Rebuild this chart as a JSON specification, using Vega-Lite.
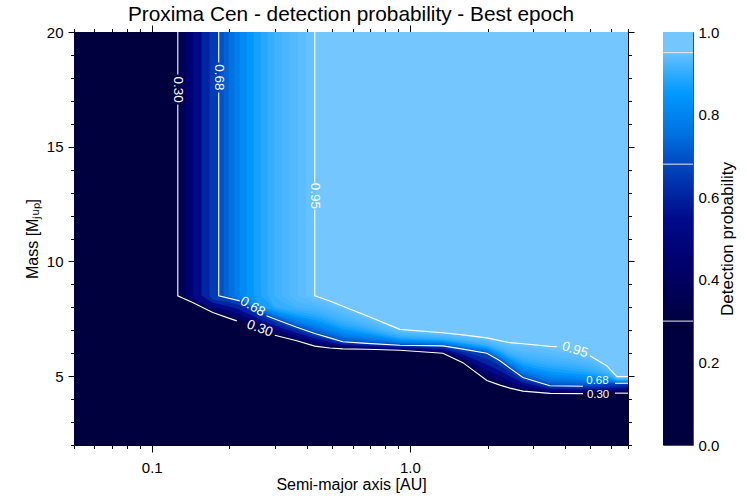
{
  "$schema": "https://vega.github.io/schema/vega-lite/v6.json",
  "padding": {"left": 24, "top": 4, "right": 6, "bottom": 4},
  "config": {
    "font": "Liberation Sans",
    "view": {"stroke": null},
    "axis": {"grid": false, "domainColor": "black", "domainWidth": 1, "tickColor": "black", "tickWidth": 1, "labelColor": "black", "labelFontSize": 15, "titleColor": "black", "titleFontSize": 16, "titleFontWeight": "normal", "labelFlush": false, "labelOverlap": false},
    "title": {"fontSize": 20.8, "fontWeight": "normal", "color": "black"}
  },
  "datasets": {
    "bands": [
      {"lev":0,"p":0,"a":0.05,"m":2},{"lev":0,"p":0,"a":7,"m":2},
      {"lev":1,"p":0.35,"a":0.1262,"m":8.5},{"lev":1,"p":0.35,"a":0.1343,"m":8.36},{"lev":1,"p":0.35,"a":0.1441,"m":8.21},{"lev":1,"p":0.35,"a":0.1562,"m":8.01},{"lev":1,"p":0.35,"a":0.1724,"m":7.77},{"lev":1,"p":0.35,"a":0.1987,"m":7.53},{"lev":1,"p":0.35,"a":0.2193,"m":7.36},{"lev":1,"p":0.35,"a":0.2622,"m":7.03},{"lev":1,"p":0.35,"a":0.2997,"m":6.78},{"lev":1,"p":0.35,"a":0.3648,"m":6.54},{"lev":1,"p":0.35,"a":0.4282,"m":6.31},{"lev":1,"p":0.35,"a":0.4897,"m":6.23},{"lev":1,"p":0.35,"a":0.5499,"m":6.19},{"lev":1,"p":0.35,"a":0.6813,"m":6.17},{"lev":1,"p":0.35,"a":0.9146,"m":6.13},{"lev":1,"p":0.35,"a":1.3424,"m":6.0},{"lev":1,"p":0.35,"a":1.6047,"m":5.59},{"lev":1,"p":0.35,"a":1.988,"m":4.81},{"lev":1,"p":0.35,"a":2.233,"m":4.61},{"lev":1,"p":0.35,"a":2.4413,"m":4.48},{"lev":1,"p":0.35,"a":2.7416,"m":4.35},{"lev":1,"p":0.35,"a":3.4881,"m":4.25},{"lev":1,"p":0.35,"a":4.9853,"m":4.24},{"lev":1,"p":0.35,"a":7,"m":4.26},
      {"lev":2,"p":0.45,"a":0.1343,"m":8.5},{"lev":2,"p":0.45,"a":0.1441,"m":8.26},{"lev":2,"p":0.45,"a":0.1562,"m":8.1},{"lev":2,"p":0.45,"a":0.1724,"m":7.89},{"lev":2,"p":0.45,"a":0.1987,"m":7.68},{"lev":2,"p":0.45,"a":0.2193,"m":7.52},{"lev":2,"p":0.45,"a":0.2622,"m":7.16},{"lev":2,"p":0.45,"a":0.2997,"m":6.91},{"lev":2,"p":0.45,"a":0.3648,"m":6.64},{"lev":2,"p":0.45,"a":0.4282,"m":6.4},{"lev":2,"p":0.45,"a":0.5499,"m":6.25},{"lev":2,"p":0.45,"a":0.6813,"m":6.22},{"lev":2,"p":0.45,"a":0.9146,"m":6.16},{"lev":2,"p":0.45,"a":1.3424,"m":6.06},{"lev":2,"p":0.45,"a":1.6047,"m":5.69},{"lev":2,"p":0.45,"a":1.988,"m":5.01},{"lev":2,"p":0.45,"a":2.233,"m":4.79},{"lev":2,"p":0.45,"a":2.4413,"m":4.63},{"lev":2,"p":0.45,"a":2.7416,"m":4.45},{"lev":2,"p":0.45,"a":3.4881,"m":4.31},{"lev":2,"p":0.45,"a":4.9853,"m":4.3},{"lev":2,"p":0.45,"a":7,"m":4.34},
      {"lev":3,"p":0.54,"a":0.1441,"m":8.5},{"lev":3,"p":0.54,"a":0.1562,"m":8.19},{"lev":3,"p":0.54,"a":0.1724,"m":8.04},{"lev":3,"p":0.54,"a":0.1987,"m":7.86},{"lev":3,"p":0.54,"a":0.2193,"m":7.7},{"lev":3,"p":0.54,"a":0.2622,"m":7.32},{"lev":3,"p":0.54,"a":0.2997,"m":7.04},{"lev":3,"p":0.54,"a":0.3648,"m":6.76},{"lev":3,"p":0.54,"a":0.4282,"m":6.51},{"lev":3,"p":0.54,"a":0.5499,"m":6.31},{"lev":3,"p":0.54,"a":0.6813,"m":6.27},{"lev":3,"p":0.54,"a":0.9146,"m":6.21},{"lev":3,"p":0.54,"a":1.3424,"m":6.12},{"lev":3,"p":0.54,"a":1.6047,"m":5.81},{"lev":3,"p":0.54,"a":1.988,"m":5.25},{"lev":3,"p":0.54,"a":2.233,"m":5.0},{"lev":3,"p":0.54,"a":2.4413,"m":4.8},{"lev":3,"p":0.54,"a":2.7416,"m":4.57},{"lev":3,"p":0.54,"a":3.4881,"m":4.37},{"lev":3,"p":0.54,"a":4.9853,"m":4.36},{"lev":3,"p":0.54,"a":7,"m":4.42},
      {"lev":4,"p":0.605,"a":0.1562,"m":8.5},{"lev":4,"p":0.605,"a":0.1724,"m":8.2},{"lev":4,"p":0.605,"a":0.1987,"m":8.05},{"lev":4,"p":0.605,"a":0.2193,"m":7.9},{"lev":4,"p":0.605,"a":0.2622,"m":7.48},{"lev":4,"p":0.605,"a":0.2997,"m":7.2},{"lev":4,"p":0.605,"a":0.3648,"m":6.89},{"lev":4,"p":0.605,"a":0.4282,"m":6.64},{"lev":4,"p":0.605,"a":0.5499,"m":6.37},{"lev":4,"p":0.605,"a":0.6813,"m":6.33},{"lev":4,"p":0.605,"a":0.9146,"m":6.26},{"lev":4,"p":0.605,"a":1.3424,"m":6.19},{"lev":4,"p":0.605,"a":1.6047,"m":5.94},{"lev":4,"p":0.605,"a":1.988,"m":5.51},{"lev":4,"p":0.605,"a":2.233,"m":5.24},{"lev":4,"p":0.605,"a":2.4413,"m":5.0},{"lev":4,"p":0.605,"a":2.7416,"m":4.71},{"lev":4,"p":0.605,"a":3.4881,"m":4.45},{"lev":4,"p":0.605,"a":4.9853,"m":4.43},{"lev":4,"p":0.605,"a":7,"m":4.52},
      {"lev":5,"p":0.655,"a":0.1678,"m":8.5},{"lev":5,"p":0.655,"a":0.1724,"m":8.33},{"lev":5,"p":0.655,"a":0.1987,"m":8.23},{"lev":5,"p":0.655,"a":0.2193,"m":8.09},{"lev":5,"p":0.655,"a":0.2622,"m":7.64},{"lev":5,"p":0.655,"a":0.2997,"m":7.35},{"lev":5,"p":0.655,"a":0.3648,"m":7.01},{"lev":5,"p":0.655,"a":0.4282,"m":6.75},{"lev":5,"p":0.655,"a":0.5499,"m":6.44},{"lev":5,"p":0.655,"a":0.6813,"m":6.38},{"lev":5,"p":0.655,"a":0.9146,"m":6.31},{"lev":5,"p":0.655,"a":1.3424,"m":6.26},{"lev":5,"p":0.655,"a":1.6047,"m":6.06},{"lev":5,"p":0.655,"a":1.988,"m":5.76},{"lev":5,"p":0.655,"a":2.233,"m":5.46},{"lev":5,"p":0.655,"a":2.4413,"m":5.18},{"lev":5,"p":0.655,"a":2.7416,"m":4.83},{"lev":5,"p":0.655,"a":3.4881,"m":4.52},{"lev":5,"p":0.655,"a":4.9853,"m":4.5},{"lev":5,"p":0.655,"a":7,"m":4.61},
      {"lev":6,"p":0.695,"a":0.1818,"m":8.5},{"lev":6,"p":0.695,"a":0.2193,"m":8.28},{"lev":6,"p":0.695,"a":0.2622,"m":7.79},{"lev":6,"p":0.695,"a":0.2997,"m":7.49},{"lev":6,"p":0.695,"a":0.3648,"m":7.13},{"lev":6,"p":0.695,"a":0.4282,"m":6.86},{"lev":6,"p":0.695,"a":0.4897,"m":6.67},{"lev":6,"p":0.695,"a":0.5499,"m":6.5},{"lev":6,"p":0.695,"a":0.6813,"m":6.43},{"lev":6,"p":0.695,"a":0.9146,"m":6.35},{"lev":6,"p":0.695,"a":1.3424,"m":6.32},{"lev":6,"p":0.695,"a":1.6047,"m":6.18},{"lev":6,"p":0.695,"a":1.988,"m":6.0},{"lev":6,"p":0.695,"a":2.233,"m":5.67},{"lev":6,"p":0.695,"a":2.4413,"m":5.35},{"lev":6,"p":0.695,"a":2.7416,"m":4.94},{"lev":6,"p":0.695,"a":3.4881,"m":4.58},{"lev":6,"p":0.695,"a":4.3607,"m":4.56},{"lev":6,"p":0.695,"a":4.9853,"m":4.57},{"lev":6,"p":0.695,"a":5.8009,"m":4.66},{"lev":6,"p":0.695,"a":6.3434,"m":4.69},{"lev":6,"p":0.695,"a":7,"m":4.69},
      {"lev":7,"p":0.725,"a":0.1902,"m":8.5},{"lev":7,"p":0.725,"a":0.2193,"m":8.29},{"lev":7,"p":0.725,"a":0.2485,"m":7.97},{"lev":7,"p":0.725,"a":0.2622,"m":7.83},{"lev":7,"p":0.725,"a":0.2997,"m":7.54},{"lev":7,"p":0.725,"a":0.3648,"m":7.2},{"lev":7,"p":0.725,"a":0.4282,"m":6.94},{"lev":7,"p":0.725,"a":0.4897,"m":6.75},{"lev":7,"p":0.725,"a":0.5499,"m":6.58},{"lev":7,"p":0.725,"a":0.6813,"m":6.49},{"lev":7,"p":0.725,"a":0.9146,"m":6.39},{"lev":7,"p":0.725,"a":1.3424,"m":6.35},{"lev":7,"p":0.725,"a":1.6047,"m":6.21},{"lev":7,"p":0.725,"a":1.988,"m":6.03},{"lev":7,"p":0.725,"a":2.233,"m":5.71},{"lev":7,"p":0.725,"a":2.4413,"m":5.41},{"lev":7,"p":0.725,"a":2.7416,"m":5.02},{"lev":7,"p":0.725,"a":3.4881,"m":4.67},{"lev":7,"p":0.725,"a":4.3607,"m":4.64},{"lev":7,"p":0.725,"a":4.9853,"m":4.64},{"lev":7,"p":0.725,"a":5.8009,"m":4.7},{"lev":7,"p":0.725,"a":6.3434,"m":4.71},{"lev":7,"p":0.725,"a":7,"m":4.71},
      {"lev":8,"p":0.755,"a":0.1987,"m":8.5},{"lev":8,"p":0.755,"a":0.2193,"m":8.3},{"lev":8,"p":0.755,"a":0.2485,"m":8.0},{"lev":8,"p":0.755,"a":0.2622,"m":7.86},{"lev":8,"p":0.755,"a":0.2997,"m":7.59},{"lev":8,"p":0.755,"a":0.3648,"m":7.27},{"lev":8,"p":0.755,"a":0.4282,"m":7.02},{"lev":8,"p":0.755,"a":0.4897,"m":6.83},{"lev":8,"p":0.755,"a":0.5499,"m":6.66},{"lev":8,"p":0.755,"a":0.6813,"m":6.55},{"lev":8,"p":0.755,"a":0.9146,"m":6.42},{"lev":8,"p":0.755,"a":1.3424,"m":6.38},{"lev":8,"p":0.755,"a":1.6047,"m":6.24},{"lev":8,"p":0.755,"a":1.988,"m":6.06},{"lev":8,"p":0.755,"a":2.233,"m":5.75},{"lev":8,"p":0.755,"a":2.4413,"m":5.46},{"lev":8,"p":0.755,"a":2.7416,"m":5.09},{"lev":8,"p":0.755,"a":3.4881,"m":4.75},{"lev":8,"p":0.755,"a":4.3607,"m":4.71},{"lev":8,"p":0.755,"a":4.9853,"m":4.7},{"lev":8,"p":0.755,"a":5.8009,"m":4.73},{"lev":8,"p":0.755,"a":6.3434,"m":4.72},{"lev":8,"p":0.755,"a":7,"m":4.72},
      {"lev":9,"p":0.785,"a":0.2088,"m":8.5},{"lev":9,"p":0.785,"a":0.2193,"m":8.4},{"lev":9,"p":0.785,"a":0.2485,"m":8.03},{"lev":9,"p":0.785,"a":0.2622,"m":7.91},{"lev":9,"p":0.785,"a":0.2997,"m":7.66},{"lev":9,"p":0.785,"a":0.3648,"m":7.35},{"lev":9,"p":0.785,"a":0.4282,"m":7.12},{"lev":9,"p":0.785,"a":0.4897,"m":6.93},{"lev":9,"p":0.785,"a":0.5499,"m":6.75},{"lev":9,"p":0.785,"a":0.6813,"m":6.63},{"lev":9,"p":0.785,"a":0.9146,"m":6.46},{"lev":9,"p":0.785,"a":1.3424,"m":6.42},{"lev":9,"p":0.785,"a":1.6047,"m":6.28},{"lev":9,"p":0.785,"a":1.988,"m":6.11},{"lev":9,"p":0.785,"a":2.233,"m":5.81},{"lev":9,"p":0.785,"a":2.4413,"m":5.53},{"lev":9,"p":0.785,"a":2.7416,"m":5.18},{"lev":9,"p":0.785,"a":3.4881,"m":4.86},{"lev":9,"p":0.785,"a":4.3607,"m":4.8},{"lev":9,"p":0.785,"a":4.9853,"m":4.78},{"lev":9,"p":0.785,"a":5.8009,"m":4.78},{"lev":9,"p":0.785,"a":6.3434,"m":4.74},{"lev":9,"p":0.785,"a":7,"m":4.74},
      {"lev":10,"p":0.815,"a":0.2193,"m":8.5},{"lev":10,"p":0.815,"a":0.2485,"m":8.06},{"lev":10,"p":0.815,"a":0.2622,"m":7.95},{"lev":10,"p":0.815,"a":0.2997,"m":7.72},{"lev":10,"p":0.815,"a":0.3648,"m":7.43},{"lev":10,"p":0.815,"a":0.4282,"m":7.22},{"lev":10,"p":0.815,"a":0.4897,"m":7.02},{"lev":10,"p":0.815,"a":0.5499,"m":6.84},{"lev":10,"p":0.815,"a":0.6813,"m":6.7},{"lev":10,"p":0.815,"a":0.9146,"m":6.5},{"lev":10,"p":0.815,"a":1.3424,"m":6.45},{"lev":10,"p":0.815,"a":1.6047,"m":6.31},{"lev":10,"p":0.815,"a":1.988,"m":6.15},{"lev":10,"p":0.815,"a":2.233,"m":5.86},{"lev":10,"p":0.815,"a":2.4413,"m":5.6},{"lev":10,"p":0.815,"a":2.7416,"m":5.26},{"lev":10,"p":0.815,"a":3.4881,"m":4.96},{"lev":10,"p":0.815,"a":4.3607,"m":4.89},{"lev":10,"p":0.815,"a":4.9853,"m":4.86},{"lev":10,"p":0.815,"a":5.8009,"m":4.83},{"lev":10,"p":0.815,"a":6.3434,"m":4.76},{"lev":10,"p":0.815,"a":7,"m":4.76},
      {"lev":11,"p":0.845,"a":0.2334,"m":8.5},{"lev":11,"p":0.845,"a":0.2485,"m":8.28},{"lev":11,"p":0.845,"a":0.2622,"m":8.0},{"lev":11,"p":0.845,"a":0.2997,"m":7.79},{"lev":11,"p":0.845,"a":0.3648,"m":7.53},{"lev":11,"p":0.845,"a":0.4282,"m":7.34},{"lev":11,"p":0.845,"a":0.4897,"m":7.14},{"lev":11,"p":0.845,"a":0.5499,"m":6.95},{"lev":11,"p":0.845,"a":0.6813,"m":6.79},{"lev":11,"p":0.845,"a":0.9146,"m":6.55},{"lev":11,"p":0.845,"a":1.3424,"m":6.49},{"lev":11,"p":0.845,"a":1.6047,"m":6.36},{"lev":11,"p":0.845,"a":1.988,"m":6.2},{"lev":11,"p":0.845,"a":2.233,"m":5.93},{"lev":11,"p":0.845,"a":2.4413,"m":5.68},{"lev":11,"p":0.845,"a":2.7416,"m":5.37},{"lev":11,"p":0.845,"a":3.4881,"m":5.08},{"lev":11,"p":0.845,"a":4.3607,"m":5.0},{"lev":11,"p":0.845,"a":4.9853,"m":4.95},{"lev":11,"p":0.845,"a":5.8009,"m":4.89},{"lev":11,"p":0.845,"a":6.3434,"m":4.78},{"lev":11,"p":0.845,"a":7,"m":4.78},
      {"lev":12,"p":0.87,"a":0.2485,"m":8.5},{"lev":12,"p":0.87,"a":0.2622,"m":8.05},{"lev":12,"p":0.87,"a":0.2997,"m":7.86},{"lev":12,"p":0.87,"a":0.3648,"m":7.62},{"lev":12,"p":0.87,"a":0.4282,"m":7.45},{"lev":12,"p":0.87,"a":0.4897,"m":7.25},{"lev":12,"p":0.87,"a":0.5499,"m":7.06},{"lev":12,"p":0.87,"a":0.6813,"m":6.87},{"lev":12,"p":0.87,"a":0.9146,"m":6.6},{"lev":12,"p":0.87,"a":1.3424,"m":6.53},{"lev":12,"p":0.87,"a":1.6047,"m":6.4},{"lev":12,"p":0.87,"a":1.988,"m":6.24},{"lev":12,"p":0.87,"a":2.233,"m":5.99},{"lev":12,"p":0.87,"a":2.4413,"m":5.75},{"lev":12,"p":0.87,"a":2.7416,"m":5.47},{"lev":12,"p":0.87,"a":3.4881,"m":5.2},{"lev":12,"p":0.87,"a":4.3607,"m":5.1},{"lev":12,"p":0.87,"a":4.9853,"m":5.04},{"lev":12,"p":0.87,"a":5.8009,"m":4.94},{"lev":12,"p":0.87,"a":6.3434,"m":4.8},{"lev":12,"p":0.87,"a":7,"m":4.8},
      {"lev":13,"p":0.89,"a":0.2646,"m":8.5},{"lev":13,"p":0.89,"a":0.2816,"m":8.23},{"lev":13,"p":0.89,"a":0.2997,"m":7.94},{"lev":13,"p":0.89,"a":0.3648,"m":7.73},{"lev":13,"p":0.89,"a":0.4282,"m":7.57},{"lev":13,"p":0.89,"a":0.4897,"m":7.37},{"lev":13,"p":0.89,"a":0.5499,"m":7.18},{"lev":13,"p":0.89,"a":0.6813,"m":6.96},{"lev":13,"p":0.89,"a":0.9146,"m":6.65},{"lev":13,"p":0.89,"a":1.3424,"m":6.57},{"lev":13,"p":0.89,"a":1.6047,"m":6.45},{"lev":13,"p":0.89,"a":1.988,"m":6.29},{"lev":13,"p":0.89,"a":2.233,"m":6.06},{"lev":13,"p":0.89,"a":2.4413,"m":5.84},{"lev":13,"p":0.89,"a":2.7416,"m":5.58},{"lev":13,"p":0.89,"a":3.4881,"m":5.33},{"lev":13,"p":0.89,"a":4.3607,"m":5.22},{"lev":13,"p":0.89,"a":4.9853,"m":5.14},{"lev":13,"p":0.89,"a":5.8009,"m":5.0},{"lev":13,"p":0.89,"a":6.3434,"m":4.82},{"lev":13,"p":0.89,"a":7,"m":4.82},
      {"lev":14,"p":0.905,"a":0.2816,"m":8.5},{"lev":14,"p":0.905,"a":0.2997,"m":8.01},{"lev":14,"p":0.905,"a":0.3648,"m":7.83},{"lev":14,"p":0.905,"a":0.4282,"m":7.69},{"lev":14,"p":0.905,"a":0.4897,"m":7.49},{"lev":14,"p":0.905,"a":0.5499,"m":7.29},{"lev":14,"p":0.905,"a":0.6813,"m":7.04},{"lev":14,"p":0.905,"a":0.9146,"m":6.7},{"lev":14,"p":0.905,"a":1.3424,"m":6.61},{"lev":14,"p":0.905,"a":1.6047,"m":6.49},{"lev":14,"p":0.905,"a":1.988,"m":6.34},{"lev":14,"p":0.905,"a":2.233,"m":6.12},{"lev":14,"p":0.905,"a":2.4413,"m":5.92},{"lev":14,"p":0.905,"a":2.7416,"m":5.69},{"lev":14,"p":0.905,"a":3.4881,"m":5.46},{"lev":14,"p":0.905,"a":4.3607,"m":5.34},{"lev":14,"p":0.905,"a":4.9853,"m":5.24},{"lev":14,"p":0.905,"a":5.8009,"m":5.06},{"lev":14,"p":0.905,"a":6.3434,"m":4.84},{"lev":14,"p":0.905,"a":7,"m":4.84},
      {"lev":15,"p":0.915,"a":0.2997,"m":8.5},{"lev":15,"p":0.915,"a":0.3191,"m":8.23},{"lev":15,"p":0.915,"a":0.3648,"m":7.93},{"lev":15,"p":0.915,"a":0.4282,"m":7.82},{"lev":15,"p":0.915,"a":0.4897,"m":7.61},{"lev":15,"p":0.915,"a":0.5499,"m":7.41},{"lev":15,"p":0.915,"a":0.6813,"m":7.13},{"lev":15,"p":0.915,"a":0.9146,"m":6.76},{"lev":15,"p":0.915,"a":1.3424,"m":6.66},{"lev":15,"p":0.915,"a":1.6047,"m":6.54},{"lev":15,"p":0.915,"a":1.988,"m":6.39},{"lev":15,"p":0.915,"a":2.233,"m":6.19},{"lev":15,"p":0.915,"a":2.4413,"m":6.0},{"lev":15,"p":0.915,"a":2.7416,"m":5.8},{"lev":15,"p":0.915,"a":3.4881,"m":5.59},{"lev":15,"p":0.915,"a":4.3607,"m":5.46},{"lev":15,"p":0.915,"a":4.9853,"m":5.34},{"lev":15,"p":0.915,"a":5.8009,"m":5.12},{"lev":15,"p":0.915,"a":6.3434,"m":4.86},{"lev":15,"p":0.915,"a":7,"m":4.86},
      {"lev":16,"p":0.924,"a":0.3191,"m":8.5},{"lev":16,"p":0.924,"a":0.3648,"m":8.03},{"lev":16,"p":0.924,"a":0.4282,"m":7.94},{"lev":16,"p":0.924,"a":0.4897,"m":7.73},{"lev":16,"p":0.924,"a":0.5499,"m":7.52},{"lev":16,"p":0.924,"a":0.6813,"m":7.22},{"lev":16,"p":0.924,"a":0.9146,"m":6.81},{"lev":16,"p":0.924,"a":1.3424,"m":6.7},{"lev":16,"p":0.924,"a":1.6047,"m":6.59},{"lev":16,"p":0.924,"a":1.988,"m":6.44},{"lev":16,"p":0.924,"a":2.233,"m":6.25},{"lev":16,"p":0.924,"a":2.4413,"m":6.08},{"lev":16,"p":0.924,"a":2.7416,"m":5.91},{"lev":16,"p":0.924,"a":3.4881,"m":5.72},{"lev":16,"p":0.924,"a":4.3607,"m":5.57},{"lev":16,"p":0.924,"a":4.9853,"m":5.44},{"lev":16,"p":0.924,"a":5.8009,"m":5.18},{"lev":16,"p":0.924,"a":6.3434,"m":4.88},{"lev":16,"p":0.924,"a":7,"m":4.88},
      {"lev":17,"p":0.932,"a":0.3426,"m":8.5},{"lev":17,"p":0.932,"a":0.3648,"m":8.27},{"lev":17,"p":0.932,"a":0.4282,"m":8.07},{"lev":17,"p":0.932,"a":0.4897,"m":7.86},{"lev":17,"p":0.932,"a":0.5499,"m":7.65},{"lev":17,"p":0.932,"a":0.6813,"m":7.32},{"lev":17,"p":0.932,"a":0.9146,"m":6.87},{"lev":17,"p":0.932,"a":1.3424,"m":6.75},{"lev":17,"p":0.932,"a":1.6047,"m":6.64},{"lev":17,"p":0.932,"a":1.988,"m":6.5},{"lev":17,"p":0.932,"a":2.233,"m":6.32},{"lev":17,"p":0.932,"a":2.4413,"m":6.17},{"lev":17,"p":0.932,"a":2.7416,"m":6.03},{"lev":17,"p":0.932,"a":3.4881,"m":5.86},{"lev":17,"p":0.932,"a":4.3607,"m":5.69},{"lev":17,"p":0.932,"a":4.9853,"m":5.55},{"lev":17,"p":0.932,"a":5.8009,"m":5.25},{"lev":17,"p":0.932,"a":6.3434,"m":4.91},{"lev":17,"p":0.932,"a":7,"m":4.91},
      {"lev":18,"p":0.939,"a":0.368,"m":8.5},{"lev":18,"p":0.939,"a":0.4282,"m":8.2},{"lev":18,"p":0.939,"a":0.4897,"m":7.99},{"lev":18,"p":0.939,"a":0.5499,"m":7.77},{"lev":18,"p":0.939,"a":0.6813,"m":7.42},{"lev":18,"p":0.939,"a":0.9146,"m":6.92},{"lev":18,"p":0.939,"a":1.3424,"m":6.79},{"lev":18,"p":0.939,"a":1.6047,"m":6.69},{"lev":18,"p":0.939,"a":1.988,"m":6.55},{"lev":18,"p":0.939,"a":2.233,"m":6.39},{"lev":18,"p":0.939,"a":2.4413,"m":6.26},{"lev":18,"p":0.939,"a":2.7416,"m":6.14},{"lev":18,"p":0.939,"a":3.4881,"m":5.99},{"lev":18,"p":0.939,"a":4.3607,"m":5.81},{"lev":18,"p":0.939,"a":4.9853,"m":5.65},{"lev":18,"p":0.939,"a":5.8009,"m":5.31},{"lev":18,"p":0.939,"a":6.3434,"m":4.93},{"lev":18,"p":0.939,"a":7,"m":4.93},
      {"lev":19,"p":0.947,"a":0.397,"m":8.5},{"lev":19,"p":0.947,"a":0.4282,"m":8.35},{"lev":19,"p":0.947,"a":0.4897,"m":8.14},{"lev":19,"p":0.947,"a":0.5499,"m":7.91},{"lev":19,"p":0.947,"a":0.6813,"m":7.53},{"lev":19,"p":0.947,"a":0.9146,"m":6.98},{"lev":19,"p":0.947,"a":1.3424,"m":6.84},{"lev":19,"p":0.947,"a":1.6047,"m":6.75},{"lev":19,"p":0.947,"a":1.988,"m":6.61},{"lev":19,"p":0.947,"a":2.233,"m":6.47},{"lev":19,"p":0.947,"a":2.4413,"m":6.36},{"lev":19,"p":0.947,"a":2.7416,"m":6.28},{"lev":19,"p":0.947,"a":3.4881,"m":6.15},{"lev":19,"p":0.947,"a":4.3607,"m":5.95},{"lev":19,"p":0.947,"a":4.9853,"m":5.77},{"lev":19,"p":0.947,"a":5.8009,"m":5.38},{"lev":19,"p":0.947,"a":6.3434,"m":4.96},{"lev":19,"p":0.947,"a":7,"m":4.96},
      {"lev":20,"p":1,"a":0.4282,"m":8.5},{"lev":20,"p":1,"a":0.4897,"m":8.28},{"lev":20,"p":1,"a":0.5499,"m":8.05},{"lev":20,"p":1,"a":0.6813,"m":7.63},{"lev":20,"p":1,"a":0.9146,"m":7.04},{"lev":20,"p":1,"a":1.3424,"m":6.89},{"lev":20,"p":1,"a":1.6047,"m":6.8},{"lev":20,"p":1,"a":1.988,"m":6.67},{"lev":20,"p":1,"a":2.233,"m":6.55},{"lev":20,"p":1,"a":2.4413,"m":6.46},{"lev":20,"p":1,"a":2.7416,"m":6.41},{"lev":20,"p":1,"a":3.4881,"m":6.3},{"lev":20,"p":1,"a":4.3607,"m":6.09},{"lev":20,"p":1,"a":4.9853,"m":5.89},{"lev":20,"p":1,"a":5.8009,"m":5.45},{"lev":20,"p":1,"a":6.3434,"m":4.98},{"lev":20,"p":1,"a":7,"m":4.98}
    ],
    "lines": [
      {"s":1,"i":1,"a":0.1262,"m":20},{"s":1,"i":2,"a":0.1262,"m":18.15},
      {"s":2,"i":3,"a":0.1262,"m":16.84},{"s":2,"i":4,"a":0.1262,"m":8.5},{"s":2,"i":5,"a":0.1343,"m":8.36},{"s":2,"i":6,"a":0.1441,"m":8.21},{"s":2,"i":7,"a":0.1562,"m":8.01},{"s":2,"i":8,"a":0.1724,"m":7.77},{"s":2,"i":9,"a":0.1987,"m":7.53},{"s":2,"i":10,"a":0.2136,"m":7.41},
      {"s":3,"i":11,"a":0.2997,"m":6.78},{"s":3,"i":12,"a":0.3648,"m":6.54},{"s":3,"i":13,"a":0.4282,"m":6.31},{"s":3,"i":14,"a":0.4897,"m":6.23},{"s":3,"i":15,"a":0.5499,"m":6.19},{"s":3,"i":16,"a":0.6813,"m":6.17},{"s":3,"i":17,"a":0.9146,"m":6.13},{"s":3,"i":18,"a":1.3424,"m":6.0},{"s":3,"i":19,"a":1.6047,"m":5.59},{"s":3,"i":20,"a":1.988,"m":4.81},{"s":3,"i":21,"a":2.233,"m":4.61},{"s":3,"i":22,"a":2.4413,"m":4.48},{"s":3,"i":23,"a":2.7416,"m":4.35},{"s":3,"i":24,"a":3.4881,"m":4.25},{"s":3,"i":25,"a":4.683,"m":4.24},
      {"s":4,"i":26,"a":6.232,"m":4.26},{"s":4,"i":27,"a":7,"m":4.26},
      {"s":5,"i":28,"a":0.1818,"m":20},{"s":5,"i":29,"a":0.1818,"m":18.67},
      {"s":6,"i":30,"a":0.1818,"m":17.36},{"s":6,"i":31,"a":0.1818,"m":8.5},{"s":6,"i":32,"a":0.2193,"m":8.28},
      {"s":7,"i":33,"a":0.2783,"m":7.63},{"s":7,"i":34,"a":0.2997,"m":7.49},{"s":7,"i":35,"a":0.3648,"m":7.13},{"s":7,"i":36,"a":0.4282,"m":6.86},{"s":7,"i":37,"a":0.4897,"m":6.67},{"s":7,"i":38,"a":0.5499,"m":6.5},{"s":7,"i":39,"a":0.6813,"m":6.43},{"s":7,"i":40,"a":0.9146,"m":6.35},{"s":7,"i":41,"a":1.3424,"m":6.32},{"s":7,"i":42,"a":1.6047,"m":6.18},{"s":7,"i":43,"a":1.988,"m":6.0},{"s":7,"i":44,"a":2.233,"m":5.67},{"s":7,"i":45,"a":2.4413,"m":5.35},{"s":7,"i":46,"a":2.7416,"m":4.94},{"s":7,"i":47,"a":3.4881,"m":4.58},{"s":7,"i":48,"a":4.683,"m":4.56},
      {"s":8,"i":49,"a":6.232,"m":4.69},{"s":8,"i":50,"a":7,"m":4.69},
      {"s":9,"i":51,"a":0.4282,"m":20},{"s":9,"i":52,"a":0.4282,"m":13.44},
      {"s":10,"i":53,"a":0.4282,"m":12.26},{"s":10,"i":54,"a":0.4282,"m":8.5},{"s":10,"i":55,"a":0.4897,"m":8.28},{"s":10,"i":56,"a":0.5499,"m":8.05},{"s":10,"i":57,"a":0.6813,"m":7.63},{"s":10,"i":58,"a":0.9146,"m":7.04},{"s":10,"i":59,"a":1.3424,"m":6.89},{"s":10,"i":60,"a":1.6047,"m":6.8},{"s":10,"i":61,"a":1.988,"m":6.67},{"s":10,"i":62,"a":2.233,"m":6.55},{"s":10,"i":63,"a":2.4413,"m":6.46},{"s":10,"i":64,"a":2.7416,"m":6.41},{"s":10,"i":65,"a":3.4881,"m":6.3},{"s":10,"i":66,"a":3.7137,"m":6.28},
      {"s":11,"i":67,"a":4.9853,"m":5.89},{"s":11,"i":68,"a":5.8009,"m":5.45},{"s":11,"i":69,"a":6.3434,"m":4.98},{"s":11,"i":70,"a":7,"m":4.98}
    ],
    "labels": [
      {"t":"0.30","pos":"top","a":0.1262,"m":17.49},
      {"t":"0.68","pos":"top","a":0.1818,"m":18.02},
      {"t":"0.95","pos":"top","a":0.4282,"m":12.86},
      {"t":"0.68","pos":"knee","a":0.2459,"m":8.03},
      {"t":"0.30","pos":"knee","a":0.2622,"m":7.08},
      {"t":"0.95","pos":"edge","a":4.36,"m":6.15},
      {"t":"0.68","pos":"edge","a":5.33,"m":4.78},
      {"t":"0.30","pos":"edge","a":5.36,"m":4.2}
    ],
    "cbar": [{"lo":0,"hi":1}],
    "cblines": [{"v":0.3},{"v":0.68},{"v":0.95}]
  },
  "spacing": 27,
  "hconcat": [
    {
      "width": 554,
      "height": 413,
      "title": {"text": "Proxima Cen - detection probability - Best epoch", "offset": -1.5},
      "resolve": {"axis": {"x": "independent", "y": "independent"}},
      "layer": [
        {
          "data": {"name": "bands"},
          "mark": {"type": "area", "interpolate": "linear", "clip": true},
          "encoding": {
            "x": {"field": "a", "type": "quantitative", "scale": {"type": "log", "domain": [0.05, 7], "nice": false},
              "axis": {"orient": "bottom", "values": [0.05,0.06,0.07,0.08,0.09,0.1,0.2,0.3,0.4,0.5,0.6,0.7,0.8,0.9,1,2,3,4,5,6,7],
                "tickSize": {"condition": {"test": "datum.value == 0.1 || datum.value == 1", "value": 7}, "value": 3.5},
                "labelExpr": "datum.value == 0.1 ? '0.1' : (datum.value == 1 ? '1.0' : '')",
                "labelPadding": 8.5, "title": "Semi-major axis [AU]", "titlePadding": 0.5}},
            "y": {"field": "m", "type": "quantitative", "stack": null, "scale": {"domain": [2, 20], "nice": false, "zero": false},
              "axis": {"orient": "left", "values": [2,3,4,5,6,7,8,9,10,11,12,13,14,15,16,17,18,19,20],
                "tickSize": {"condition": {"test": "datum.value % 5 == 0", "value": 6}, "value": 3.5},
                "labelExpr": "datum.value % 5 == 0 ? datum.label : ''",
                "labelPadding": 5, "title": "Mass [Mⱼᵤₚ]", "titlePadding": 6}},
            "y2": {"datum": 20},
            "detail": {"field": "lev", "type": "nominal"},
            "color": {"field": "p", "type": "quantitative", "legend": null,
              "scale": {"domain": [0,0.3,0.45,0.55,0.68,0.75,0.85,0.9,0.94,0.955,1],
                "range": ["#00003e","#000040","#000070","#000b8c","#0048c0","#0070e0","#0098ff","#30acff","#5cbdff","#73c6ff","#73c6ff"], "interpolate": "rgb"}}
          }
        },
        {
          "data": {"name": "lines"},
          "mark": {"type": "line", "color": "white", "strokeWidth": 1.1, "clip": true},
          "encoding": {
            "x": {"field": "a", "type": "quantitative",
              "axis": {"orient": "top", "values": [0.05,0.06,0.07,0.08,0.09,0.1,0.2,0.3,0.4,0.5,0.6,0.7,0.8,0.9,1,2,3,4,5,6,7],
                "tickSize": {"condition": {"test": "datum.value == 0.1 || datum.value == 1", "value": 7}, "value": 3.5},
                "labels": false, "title": null}},
            "y": {"field": "m", "type": "quantitative",
              "axis": {"orient": "right", "values": [2,3,4,5,6,7,8,9,10,11,12,13,14,15,16,17,18,19,20],
                "tickSize": {"condition": {"test": "datum.value % 5 == 0", "value": 6}, "value": 3.5},
                "labels": false, "title": null}},
            "detail": {"field": "s", "type": "nominal"},
            "order": {"field": "i", "type": "quantitative"}
          }
        },
        {
          "data": {"name": "labels"},
          "transform": [{"filter": "datum.pos == 'top'"}],
          "mark": {"type": "text", "color": "white", "fontSize": 13.5, "angle": 90, "align": "center", "baseline": "middle"},
          "encoding": {
            "x": {"field": "a", "type": "quantitative", "axis": null},
            "y": {"field": "m", "type": "quantitative", "axis": null},
            "text": {"field": "t"}
          }
        },
        {
          "data": {"name": "labels"},
          "transform": [{"filter": "datum.pos == 'knee' && datum.t == '0.68'"}],
          "mark": {"type": "text", "color": "white", "fontSize": 13.5, "angle": 30, "align": "center", "baseline": "middle"},
          "encoding": {
            "x": {"field": "a", "type": "quantitative", "axis": null},
            "y": {"field": "m", "type": "quantitative", "axis": null},
            "text": {"field": "t"}
          }
        },
        {
          "data": {"name": "labels"},
          "transform": [{"filter": "datum.pos == 'knee' && datum.t == '0.30'"}],
          "mark": {"type": "text", "color": "white", "fontSize": 13.5, "angle": 20, "align": "center", "baseline": "middle"},
          "encoding": {
            "x": {"field": "a", "type": "quantitative", "axis": null},
            "y": {"field": "m", "type": "quantitative", "axis": null},
            "text": {"field": "t"}
          }
        },
        {
          "data": {"name": "labels"},
          "transform": [{"filter": "datum.pos == 'edge' && datum.t == '0.95'"}],
          "mark": {"type": "text", "color": "white", "fontSize": 13.5, "angle": 17, "align": "center", "baseline": "middle"},
          "encoding": {
            "x": {"field": "a", "type": "quantitative", "axis": null},
            "y": {"field": "m", "type": "quantitative", "axis": null},
            "text": {"field": "t"}
          }
        },
        {
          "data": {"name": "labels"},
          "transform": [{"filter": "datum.pos == 'edge' && datum.t != '0.95'"}],
          "mark": {"type": "text", "color": "white", "fontSize": 11.5, "angle": 0, "align": "center", "baseline": "middle"},
          "encoding": {
            "x": {"field": "a", "type": "quantitative", "axis": null},
            "y": {"field": "m", "type": "quantitative", "axis": null},
            "text": {"field": "t"}
          }
        }
      ]
    },
    {
      "width": 30,
      "height": 413,
      "view": {"stroke": "#4d4d4d", "strokeWidth": 1},
      "layer": [
        {
          "data": {"name": "cbar"},
          "mark": {"type": "rect", "fill": {"gradient": "linear", "x1": 0, "y1": 1, "x2": 0, "y2": 0,
            "stops": [{"offset":0,"color":"#00003e"},{"offset":0.3,"color":"#000040"},{"offset":0.45,"color":"#000070"},{"offset":0.55,"color":"#000b8c"},{"offset":0.68,"color":"#0048c0"},{"offset":0.75,"color":"#0070e0"},{"offset":0.85,"color":"#0098ff"},{"offset":0.9,"color":"#30acff"},{"offset":0.94,"color":"#5cbdff"},{"offset":0.955,"color":"#73c6ff"},{"offset":1,"color":"#73c6ff"}]}},
          "encoding": {
            "y": {"field": "lo", "type": "quantitative", "scale": {"domain": [0, 1], "nice": false},
              "axis": {"orient": "right", "values": [0,0.2,0.4,0.6,0.8,1], "format": ".1f", "ticks": false, "domain": false,
                "labelPadding": 5, "title": "Detection probability", "titleAngle": 270, "titleBaseline": "top", "titleFontSize": 17, "titlePadding": 1}},
            "y2": {"field": "hi"}
          }
        },
        {
          "data": {"name": "cblines"},
          "mark": {"type": "rule", "color": "#ececec", "strokeWidth": 1},
          "encoding": {"y": {"field": "v", "type": "quantitative"}}
        }
      ]
    }
  ]
}
